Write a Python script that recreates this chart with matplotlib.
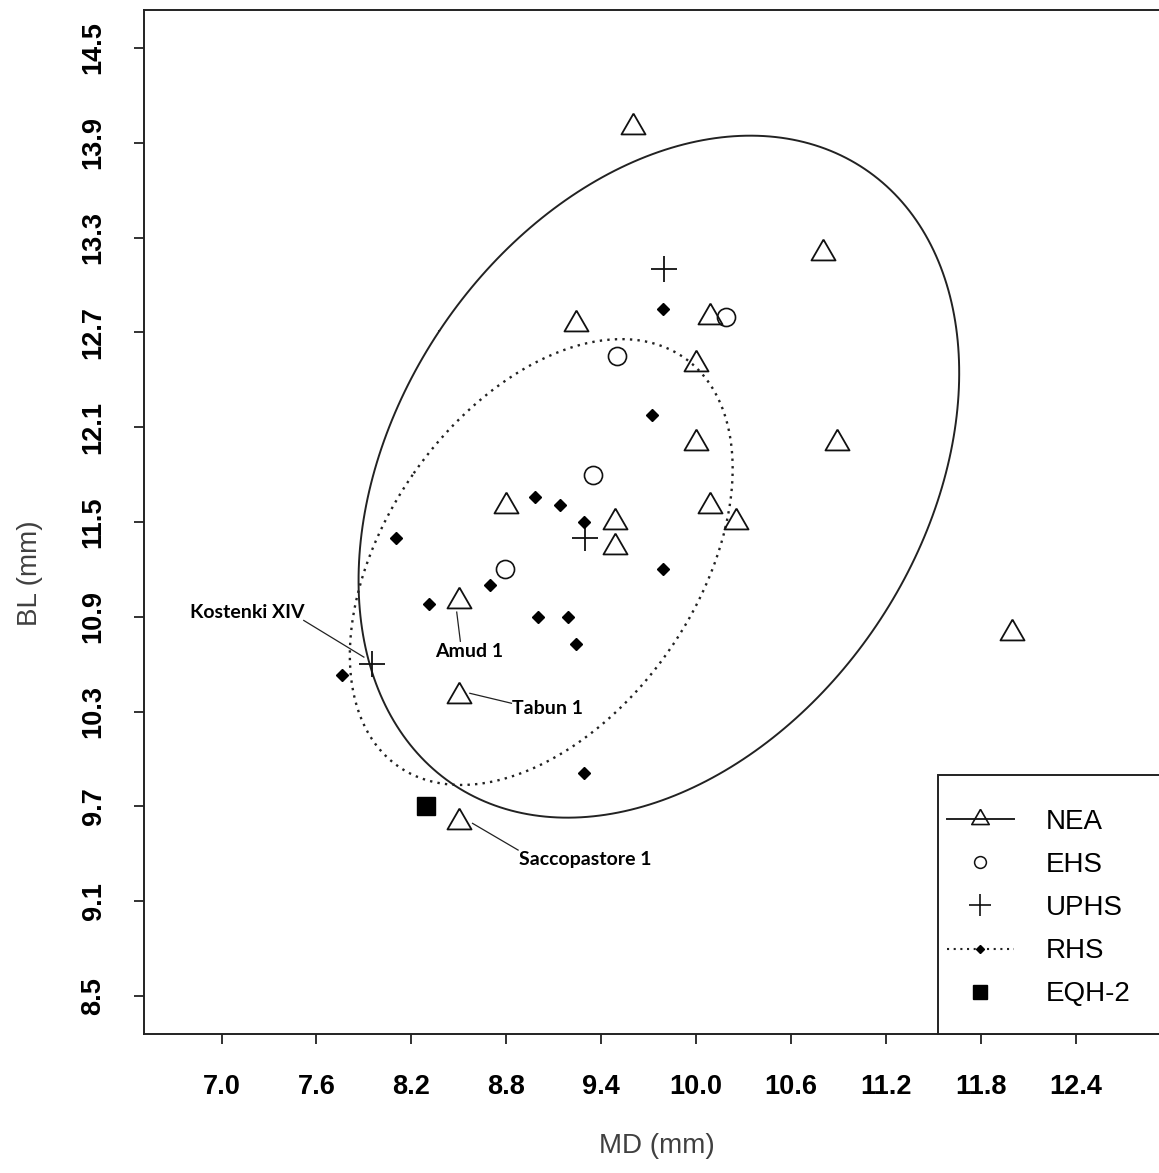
import numpy as np
import matplotlib
matplotlib.use("Agg")
import matplotlib.pyplot as plt
from matplotlib.lines import Line2D
from matplotlib.patches import Rectangle

plt.rcParams['font.family'] = ['Liberation Sans', 'DejaVu Sans']

# NEA - Neanderthals
nea_md = [9.6, 10.8, 10.09, 9.24, 10.0, 10.0, 10.89, 8.8, 10.09, 9.49, 10.25, 9.49, 8.5, 8.5, 8.5, 12.0]
nea_bl = [14.0, 13.2, 12.8, 12.75, 12.5, 12.0, 12.0, 11.6, 11.6, 11.5, 11.5, 11.34, 11.0, 10.4, 9.6, 10.8]
# EHS - early H. sapiens
ehs_md = [10.19, 9.5, 9.35, 8.79]
ehs_bl = [12.8, 12.55, 11.8, 11.2]
# UPHS - upper palaeolithic H. sapiens
uphs_md = [9.8, 9.3, 7.95]
uphs_bl = [13.1, 11.4, 10.6]
# RHS - recent H. sapiens
rhs_md = [9.79, 9.72, 8.98, 9.14, 9.29, 8.1, 9.79, 8.7, 8.31, 9.0, 9.19, 9.24, 7.76, 9.29]
rhs_bl = [12.85, 12.18, 11.66, 11.61, 11.5, 11.4, 11.2, 11.1, 10.98, 10.9, 10.9, 10.73, 10.53, 9.91]
# EQH-2
eqh_md = [8.29]
eqh_bl = [9.7]

x_ticks = [7.0, 7.6, 8.2, 8.8, 9.4, 10.0, 10.6, 11.2, 11.8, 12.4]
y_ticks = [8.5, 9.1, 9.7, 10.3, 10.9, 11.5, 12.1, 12.7, 13.3, 13.9, 14.5]

legend_labels = ['NEA', 'EHS', 'UPHS', 'RHS', 'EQH-2']

# labelled specimens: name, line end at the point, line start, text position
specimens = [
    ('Kostenki XIV', (7.90, 10.645), (7.52, 10.877), (7.16, 10.93)),
    ('Amud 1', (8.51, 10.745), (8.487, 10.93), (8.565, 10.683)),
    ('Tabun 1', (8.833, 10.353), (8.57, 10.416), (9.064, 10.321)),
    ('Saccopastore 1', (8.875, 9.424), (8.587, 9.593), (9.301, 9.367)),
]


def data_ellipse(x, y, c=1.96, n=300):
    """Ellipse of the points at c standard deviations."""
    x = np.asarray(x)
    y = np.asarray(y)
    cov = np.cov(x, y)
    vals, vecs = np.linalg.eigh(cov)
    t = np.linspace(0, 2 * np.pi, n)
    circle = np.vstack([np.cos(t), np.sin(t)])
    pts = vecs @ np.diag(np.sqrt(vals) * c) @ circle
    return pts[0] + x.mean(), pts[1] + y.mean()


# open triangle centred on its centroid (like R pch 2)
tri = [(0, 1), (-0.866, -0.5), (0.866, -0.5), (0, 1)]

W, H = 1159, 1173
fig = plt.figure(figsize=(W / 100, H / 100), dpi=100)
ax = fig.add_axes([144 / W, 1 - 1034 / H, 1025 / W, 1024 / H])

ex, ey = data_ellipse(nea_md, nea_bl)
ax.plot(ex, ey, color='#222222', lw=1.4, solid_capstyle='round')
ex, ey = data_ellipse(rhs_md, rhs_bl)
ax.plot(ex, ey, color='#222222', lw=1.7, linestyle=(0, (1.0, 2.2)))

ax.plot(nea_md, nea_bl, linestyle='none', marker=tri, ms=20, mfc='none',
        mec='#111111', mew=1.3)
ax.plot(ehs_md, ehs_bl, linestyle='none', marker='o', ms=13, mfc='none',
        mec='#111111', mew=1.2)
ax.plot(uphs_md, uphs_bl, linestyle='none', marker='+', ms=19,
        mec='#111111', mew=1.3)
ax.plot(rhs_md, rhs_bl, linestyle='none', marker='D', ms=6,
        mfc='black', mec='black')
ax.plot(eqh_md, eqh_bl, linestyle='none', marker='s', ms=12.5,
        mfc='black', mec='black')

for name, p_end, p_start, p_text in specimens:
    ax.plot([p_start[0], p_end[0]], [p_start[1], p_end[1]], color='#222222', lw=0.9)
    ax.text(p_text[0], p_text[1], name, ha='center', va='center',
            fontsize=14, fontweight='bold', family=['Lato', 'DejaVu Sans'])

ax.set_xlim(6.51, 12.99)
ax.set_ylim(8.26, 14.74)
ax.set_xticks(x_ticks)
ax.set_yticks(y_ticks)
ax.set_xticklabels([f'{v:.1f}' for v in x_ticks], fontsize=19.5, fontweight='bold')
ax.set_yticklabels([f'{v:.1f}' for v in y_ticks], fontsize=19.5, fontweight='bold',
                   rotation=90, va='center')
ax.tick_params(axis='both', direction='out', length=7, width=1.3, color='#222222')
ax.tick_params(axis='x', pad=22)
ax.tick_params(axis='y', pad=20)
for s in ax.spines.values():
    s.set_linewidth(1.4)
    s.set_color('#222222')

ax.text(0.5, -0.109, 'MD (mm)', transform=ax.transAxes, ha='center', va='center',
        fontsize=20, color='#404040')
ax.text(-0.111, 0.45, 'BL (mm)', transform=ax.transAxes, ha='center', va='center',
        rotation=90, fontsize=20, color='#404040')

# legend frame, running off the right edge like the original
fig.add_artist(Rectangle((938 / W, 1 - 1034 / H), 0.3, (1034 - 775) / H,
                         transform=fig.transFigure, fill=True, facecolor='white',
                         edgecolor='#222222', lw=1.4, zorder=3))
handles = [
    Line2D([], [], color='#222222', lw=1.4, marker=tri, ms=14.5, mfc='none',
           mec='#111111', mew=1.2),
    Line2D([], [], linestyle='none', marker='o', ms=8.5, mfc='none',
           mec='#111111', mew=1.1),
    Line2D([], [], linestyle='none', marker='+', ms=16, mec='#111111', mew=1.2),
    Line2D([], [], color='#222222', lw=1.5, linestyle=(0, (1.0, 2.2)), marker='D',
           ms=4.5, mfc='black', mec='black'),
    Line2D([], [], linestyle='none', marker='s', ms=9.5, mfc='black', mec='black'),
]
leg = fig.legend(handles, legend_labels, loc='upper left',
                 bbox_to_anchor=(947 / W, 1 - 809 / H), frameon=False,
                 fontsize=20, borderpad=0, borderaxespad=0, handlelength=2.41,
                 handletextpad=1.15, labelspacing=0.615)
leg.set_zorder(4)

fig.savefig('out.png', dpi=100)
